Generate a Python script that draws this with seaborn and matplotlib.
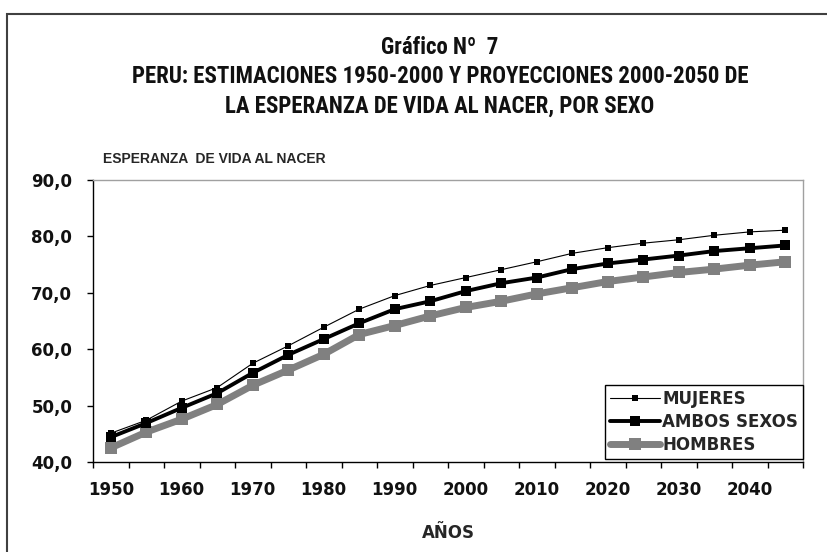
import numpy as np
import pandas as pd
import seaborn as sns
import matplotlib
matplotlib.use("Agg")
import matplotlib.pyplot as plt
from matplotlib import font_manager
from matplotlib.patches import Rectangle
from matplotlib.ticker import FuncFormatter, FixedLocator

# years (quinquennia 1950-55 ... 2045-50)
years = list(range(1950, 2050, 5))

mujeres = [45.1, 47.4, 50.8, 53.2, 57.5, 60.6, 63.9, 67.1, 69.5, 71.3,
           72.7, 74.1, 75.5, 77.0, 78.0, 78.8, 79.4, 80.2, 80.8, 81.1]
ambos = [44.4, 46.9, 49.6, 52.2, 55.8, 59.0, 61.8, 64.6, 67.1, 68.5,
         70.3, 71.7, 72.7, 74.2, 75.2, 75.9, 76.6, 77.4, 77.9, 78.4]
hombres = [42.5, 45.3, 47.6, 50.2, 53.6, 56.3, 59.1, 62.6, 64.2, 65.9,
           67.4, 68.5, 69.8, 70.9, 72.0, 72.8, 73.6, 74.2, 74.9, 75.5]

title_lines = ["Gráfico Nº  7",
               "PERU: ESTIMACIONES 1950-2000 Y PROYECCIONES 2000-2050 DE",
               "LA ESPERANZA DE VIDA AL NACER, POR SEXO"]

df = pd.DataFrame({"year": years, "MUJERES": mujeres,
                   "AMBOS SEXOS": ambos, "HOMBRES": hombres})

sns.set_theme(style="white")
plt.rcParams["font.family"] = ["DejaVu Sans"]

# pick a narrow font for the title if one is around
names = {f.name for f in font_manager.fontManager.ttflist}
narrow = [n for n in ["Liberation Sans Narrow", "Roboto Condensed",
                      "Open Sans Condensed", "Roboto", "Liberation Sans"] if n in names]
title_font = narrow[:1] + ["DejaVu Sans"]

fig = plt.figure(figsize=(8.27, 5.52), dpi=100)
ax = fig.add_axes([93 / 827, 1 - 462 / 552, 710 / 827, 282 / 552])

sns.lineplot(data=df, x="year", y="HOMBRES", ax=ax, color="#808080",
             linewidth=5, marker="s", markersize=9, markeredgewidth=0,
             label="HOMBRES", zorder=2)
sns.lineplot(data=df, x="year", y="AMBOS SEXOS", ax=ax, color="black",
             linewidth=2.8, marker="s", markersize=7, markeredgewidth=0,
             label="AMBOS SEXOS", zorder=3)
sns.lineplot(data=df, x="year", y="MUJERES", ax=ax, color="black",
             linewidth=0.8, marker="s", markersize=5, markeredgewidth=0,
             label="MUJERES", zorder=4)

ax.set_xlim(years[0] - 2.5, years[-1] + 2.5)
ax.set_ylim(40, 90)
ax.set_yticks(np.arange(40, 91, 10))
ax.yaxis.set_major_formatter(FuncFormatter(lambda v, p: f"{v:.1f}".replace(".", ",")))

# tick marks between categories, labels at category centers
ax.xaxis.set_major_locator(FixedLocator([y - 2.5 for y in years] + [years[-1] + 2.5]))
ax.xaxis.set_major_formatter(FuncFormatter(lambda v, p: ""))
ax.xaxis.set_minor_locator(FixedLocator(years[::2]))
ax.xaxis.set_minor_formatter(FuncFormatter(lambda v, p: f"{int(round(v))}"))
ax.tick_params(axis="x", which="major", direction="out", length=4, width=1,
               color="black", bottom=True)
ax.tick_params(axis="x", which="minor", length=0, pad=14, labelsize=12)
ax.tick_params(axis="y", direction="out", length=4, width=1, color="black",
               left=True, pad=11, labelsize=12)
for lab in ax.get_xticklabels(minor=True) + ax.get_yticklabels():
    lab.set_fontweight("bold")
    lab.set_color("#111111")

ax.spines["left"].set_color("black")
ax.spines["bottom"].set_color("black")
ax.spines["top"].set_color("#a0a0a0")
ax.spines["right"].set_color("#a0a0a0")
for s in ax.spines.values():
    s.set_linewidth(1)
ax.grid(False)

ax.set_ylabel("")
ax.set_xlabel("AÑOS", fontsize=12, fontweight="bold", labelpad=18)

handles, labels = ax.get_legend_handles_labels()
order = [labels.index(n) for n in ["MUJERES", "AMBOS SEXOS", "HOMBRES"]]
leg = ax.legend([handles[i] for i in order], [labels[i] for i in order],
                loc="lower right", bbox_to_anchor=(1.0, 0.01), borderaxespad=0,
                fancybox=False, framealpha=1, edgecolor="black",
                prop={"size": 12, "weight": "bold"}, handlelength=3.0,
                handletextpad=0.1, labelspacing=0.3, borderpad=0.3)
leg.get_frame().set_linewidth(1)

# title: fit the long line to its width in the reference (about 617 px)
renderer = fig.canvas.get_renderer()
probe = fig.text(0, 0, title_lines[1], fontsize=16, fontweight="bold", family=title_font)
w = probe.get_window_extent(renderer).width
probe.remove()
tsize = min(17, 16 * 617 / w)
for i, line in enumerate(title_lines):
    fig.text(440 / 827, 1 - (47 + 29.5 * i) / 552, line, ha="center", va="center",
             fontsize=tsize, fontweight="bold", family=title_font, color="#111111")
fig.text(103 / 827, 1 - 159 / 552, "ESPERANZA  DE VIDA AL NACER", ha="left",
         va="center", fontsize=10, fontweight="bold",
         family=["Liberation Sans", "DejaVu Sans"])

fig.add_artist(Rectangle((7 / 827, -0.1), 1.2, 1.1 - 14 / 552,
                         transform=fig.transFigure, fill=False,
                         edgecolor="#404040", linewidth=1.5))

fig.savefig("out.png", dpi=100)
